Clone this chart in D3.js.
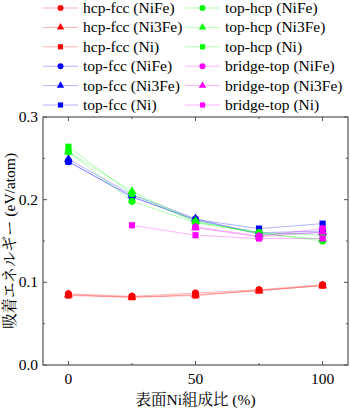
<!DOCTYPE html>
<html>
<head>
<meta charset="utf-8">
<script src="https://cdn.jsdelivr.net/npm/d3@7"></script>
<style>
  body { margin: 0; background: #fff; }
</style>
</head>
<body>
<div id="chart"></div>
<script>
// Data: surface Ni composition (%) vs adsorption energy (eV/atom)
const xValues = [0, 25, 50, 75, 100];

const hcpFccNiFe  = [0.086, 0.083, 0.087, 0.091, 0.097];
const hcpFccNi3Fe = [0.085, 0.082, 0.085, 0.090, 0.096];
const hcpFccNi    = [0.084, 0.082, 0.084, 0.090, 0.096];

const topFccNiFe  = [0.246, 0.204, 0.175, 0.160, 0.162];
const topFccNi3Fe = [0.249, 0.206, 0.177, 0.158, 0.160];
const topFccNi    = [0.246, 0.203, 0.176, 0.165, 0.171];

const topHcpNiFe  = [0.258, 0.198, 0.172, 0.160, 0.150];
const topHcpNi3Fe = [0.258, 0.210, 0.174, 0.159, 0.152];
const topHcpNi    = [0.264, 0.207, 0.173, 0.160, 0.157];

const bridgeTopNiFe  = [null, null, 0.167, 0.156, 0.165];
const bridgeTopNi3Fe = [null, null, 0.166, 0.155, 0.161];
const bridgeTopNi    = [null, 0.169, 0.157, 0.153, 0.153];

const yTicks = [0.0, 0.1, 0.2, 0.3];
const xTicks = [0, 50, 100];

const series = [
  { name: "hcp-fcc (NiFe)",     color: "#ff0000", shape: "circle",   values: hcpFccNiFe },
  { name: "hcp-fcc (Ni3Fe)",    color: "#ff0000", shape: "triangle", values: hcpFccNi3Fe },
  { name: "hcp-fcc (Ni)",       color: "#ff0000", shape: "square",   values: hcpFccNi },
  { name: "top-fcc (NiFe)",     color: "#0000ff", shape: "circle",   values: topFccNiFe },
  { name: "top-fcc (Ni3Fe)",    color: "#0000ff", shape: "triangle", values: topFccNi3Fe },
  { name: "top-fcc (Ni)",       color: "#0000ff", shape: "square",   values: topFccNi },
  { name: "top-hcp (NiFe)",     color: "#00ff00", shape: "circle",   values: topHcpNiFe },
  { name: "top-hcp (Ni3Fe)",    color: "#00ff00", shape: "triangle", values: topHcpNi3Fe },
  { name: "top-hcp (Ni)",       color: "#00ff00", shape: "square",   values: topHcpNi },
  { name: "bridge-top (NiFe)",  color: "#ff00ff", shape: "circle",   values: bridgeTopNiFe },
  { name: "bridge-top (Ni3Fe)", color: "#ff00ff", shape: "triangle", values: bridgeTopNi3Fe },
  { name: "bridge-top (Ni)",    color: "#ff00ff", shape: "square",   values: bridgeTopNi }
];

const latinFont = "'Liberation Serif'";
const cjkFont = "'Noto Serif CJK JP'";
const fontSize = "15.5px";

const width = 350, height = 411;
const margin = { left: 43, right: 2, top: 117, bottom: 46 };

const svg = d3.select("#chart").append("svg")
    .attr("width", width)
    .attr("height", height);

const x = d3.scaleLinear().domain([-10, 110]).range([margin.left, width - margin.right]);
const y = d3.scaleLinear().domain([0, 0.3]).range([height - margin.bottom, margin.top]);

const symbolType = { circle: d3.symbolCircle, triangle: d3.symbolTriangle, square: d3.symbolSquare };
const symbolSize = { circle: 40, triangle: 34, square: 38 };

// Frame
const frameColor = "#555";
svg.append("rect")
    .attr("x", x.range()[0]).attr("y", y.range()[1])
    .attr("width", x.range()[1] - x.range()[0])
    .attr("height", y.range()[0] - y.range()[1])
    .attr("fill", "none")
    .attr("stroke", frameColor)
    .attr("stroke-width", 1.2);

// Inward ticks on all sides
const xMinor = [25, 75];
const yMinor = [0.05, 0.15, 0.25];
const ticks = svg.append("g").attr("stroke", frameColor).attr("stroke-width", 1);
[[xTicks, 4], [xMinor, 2]].forEach(([vals, len]) => {
  vals.forEach(v => {
    ticks.append("line").attr("x1", x(v)).attr("x2", x(v))
      .attr("y1", y.range()[0]).attr("y2", y.range()[0] - len);
    ticks.append("line").attr("x1", x(v)).attr("x2", x(v))
      .attr("y1", y.range()[1]).attr("y2", y.range()[1] + len);
  });
});
[[yTicks, 4], [yMinor, 2]].forEach(([vals, len]) => {
  vals.forEach(v => {
    ticks.append("line").attr("y1", y(v)).attr("y2", y(v))
      .attr("x1", x.range()[0]).attr("x2", x.range()[0] + len);
    ticks.append("line").attr("y1", y(v)).attr("y2", y(v))
      .attr("x1", x.range()[1]).attr("x2", x.range()[1] - len);
  });
});

// Tick labels
svg.append("g").selectAll("text")
    .data(xTicks).enter().append("text")
    .attr("x", d => x(d))
    .attr("y", height - margin.bottom + 19)
    .attr("text-anchor", "middle")
    .style("font-family", latinFont)
    .style("font-size", fontSize)
    .text(d => d);

svg.append("g").selectAll("text")
    .data(yTicks).enter().append("text")
    .attr("x", margin.left - 5)
    .attr("y", d => y(d) + 5)
    .attr("text-anchor", "end")
    .style("font-family", latinFont)
    .style("font-size", fontSize)
    .text(d => d.toFixed(1));

// Axis titles: mixed runs, each with its own font
function mixedText(sel, parts) {
  parts.forEach(([str, isCjk]) => {
    sel.append("tspan")
      .style("font-family", isCjk ? cjkFont : latinFont)
      .text(str);
  });
}

const xTitle = svg.append("text")
    .attr("x", x(50))
    .attr("y", 405)
    .attr("text-anchor", "middle")
    .style("font-size", fontSize);
mixedText(xTitle, [["表面", true], ["Ni", false], ["組成比", true], [" (%)", false]]);

const yTitle = svg.append("text")
    .attr("transform", `translate(15, ${(y.range()[0] + y.range()[1]) / 2}) rotate(-90)`)
    .attr("text-anchor", "middle")
    .style("font-size", fontSize);
mixedText(yTitle, [["吸着エネルギー", true], [" (eV/atom)", false]]);

// Lines and markers
const line = d3.line()
    .defined(d => d.v !== null)
    .x(d => x(d.x))
    .y(d => y(d.v));

const plot = svg.append("g");
series.forEach(s => {
  const pts = xValues.map((xv, i) => ({ x: xv, v: s.values[i] }));
  plot.append("path")
      .datum(pts)
      .attr("d", line)
      .attr("fill", "none")
      .attr("stroke", s.color)
      .attr("stroke-opacity", 0.3)
      .attr("stroke-width", 1);
});
series.forEach(s => {
  const pts = xValues.map((xv, i) => ({ x: xv, v: s.values[i] })).filter(d => d.v !== null);
  plot.selectAll(null)
      .data(pts).enter().append("path")
      .attr("transform", d => `translate(${x(d.x)},${y(d.v)})`)
      .attr("d", d3.symbol().type(symbolType[s.shape]).size(symbolSize[s.shape]))
      .attr("fill", s.color);
});

// Legend (two columns of six)
const legend = svg.append("g");
series.forEach((s, i) => {
  const col = Math.floor(i / 6), row = i % 6;
  const lx = col === 0 ? 43 : 185;
  const ly = 8 + row * 19.4;
  const g = legend.append("g").attr("transform", `translate(${lx},${ly})`);
  g.append("line")
      .attr("x1", 0).attr("x2", 35)
      .attr("stroke", s.color)
      .attr("stroke-opacity", 0.3)
      .attr("stroke-width", 1);
  g.append("path")
      .attr("transform", "translate(17.5,0)")
      .attr("d", d3.symbol().type(symbolType[s.shape]).size(symbolSize[s.shape] * 0.7))
      .attr("fill", s.color);
  g.append("text")
      .attr("x", 40)
      .attr("y", 5)
      .style("font-family", latinFont)
      .style("font-size", fontSize)
      .text(s.name);
});
</script>
</body>
</html>
